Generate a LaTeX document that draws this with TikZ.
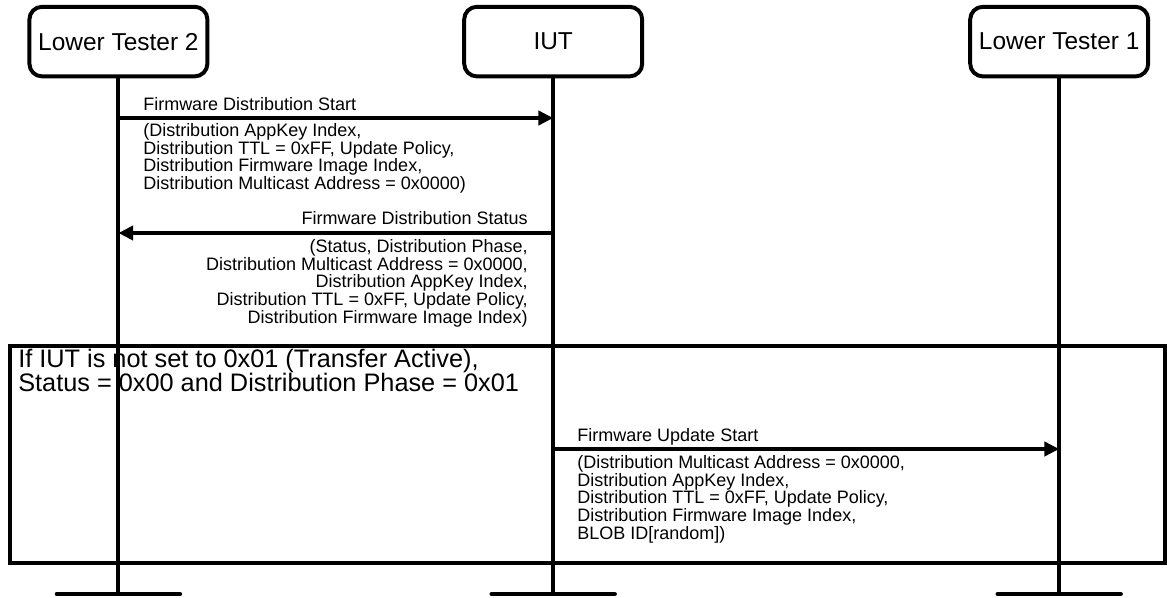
\documentclass[tikz,border=0pt]{standalone}
\usepackage{fontspec}
\setmainfont{Liberation Sans}
\usetikzlibrary{positioning,arrows.meta}

\begin{document}
\begin{tikzpicture}[
    actor/.style={draw,line width=2.8pt,rounded corners=9pt,minimum width=4.45cm,minimum height=1.74cm,font=\fontsize{17.4}{18}\selectfont},
    life/.style={line width=2.8pt},
    endbar/.style={line width=3pt,line cap=round},
    msg/.style={line width=2.8pt,-{Triangle[length=10.5pt,width=10pt]}},
    lbl/.style={font=\fontsize{12.8}{12.6}\selectfont,inner sep=0pt},
    params/.style={lbl,align=left,anchor=north west},
    frame/.style={line width=2.4pt},
    cond/.style={font=\fontsize{18}{17.1}\selectfont,inner sep=0pt,align=left,anchor=north west}]
    \useasboundingbox (0,0) rectangle (29.175,-14.95);
    % participants
    \node[actor] (lt2) at (2.96,-1.04) {Lower Tester 2};
    \node[actor] (iut) at (13.83,-1.04) {IUT};
    \node[actor] (lt1) at (26.48,-1.04) {Lower Tester 1};
    \coordinate (bottom) at (0,-14.85);
    % condition frame
    \draw[frame] (0.25,-8.65) rectangle (29.125,-14.075);
    \node[cond] (cond) at (0.45,-8.73) {If IUT is not set to 0x01 (Transfer Active),\\Status = 0x00 and Distribution Phase = 0x01};
    % lifelines
    \foreach \p in {lt2,iut,lt1} {
      \draw[life] (\p.south) -- (\p.south |- bottom);
      \draw[endbar] ([xshift=-1.54cm]\p.south |- bottom) -- ([xshift=1.54cm]\p.south |- bottom);
    }
    % messages
    \coordinate (m1) at (0,-2.95);
    \coordinate (m2) at (0,-5.825);
    \coordinate (m3) at (0,-11.225);
    \draw[msg] (lt2.south |- m1) -- (iut.south |- m1);
    \node[lbl,anchor=base west] (start) at (3.575,-2.75) {Firmware Distribution Start};
    \node[params] (startpar) at (3.575,-3.075) {(Distribution AppKey Index,\\Distribution TTL = 0xFF, Update Policy,\\Distribution Firmware Image Index,\\Distribution Multicast Address = 0x0000)};
    \draw[msg] (iut.south |- m2) -- (lt2.south |- m2);
    \node[lbl,anchor=base east] (status) at (13.2,-5.6) {Firmware Distribution Status};
    \node[params,align=right,anchor=north east] (statuspar) at (13.2,-5.975) {(Status, Distribution Phase,\\Distribution Multicast Address = 0x0000,\\Distribution AppKey Index,\\Distribution TTL = 0xFF, Update Policy,\\Distribution Firmware Image Index)};
    \draw[msg] (iut.south |- m3) -- (lt1.south |- m3);
    \node[lbl,anchor=base west] (update) at (14.425,-11.025) {Firmware Update Start};
    \node[params] (updatepar) at (14.425,-11.375) {(Distribution Multicast Address = 0x0000,\\Distribution AppKey Index,\\Distribution TTL = 0xFF, Update Policy,\\Distribution Firmware Image Index,\\BLOB ID[random])};
\end{tikzpicture}
\end{document}
